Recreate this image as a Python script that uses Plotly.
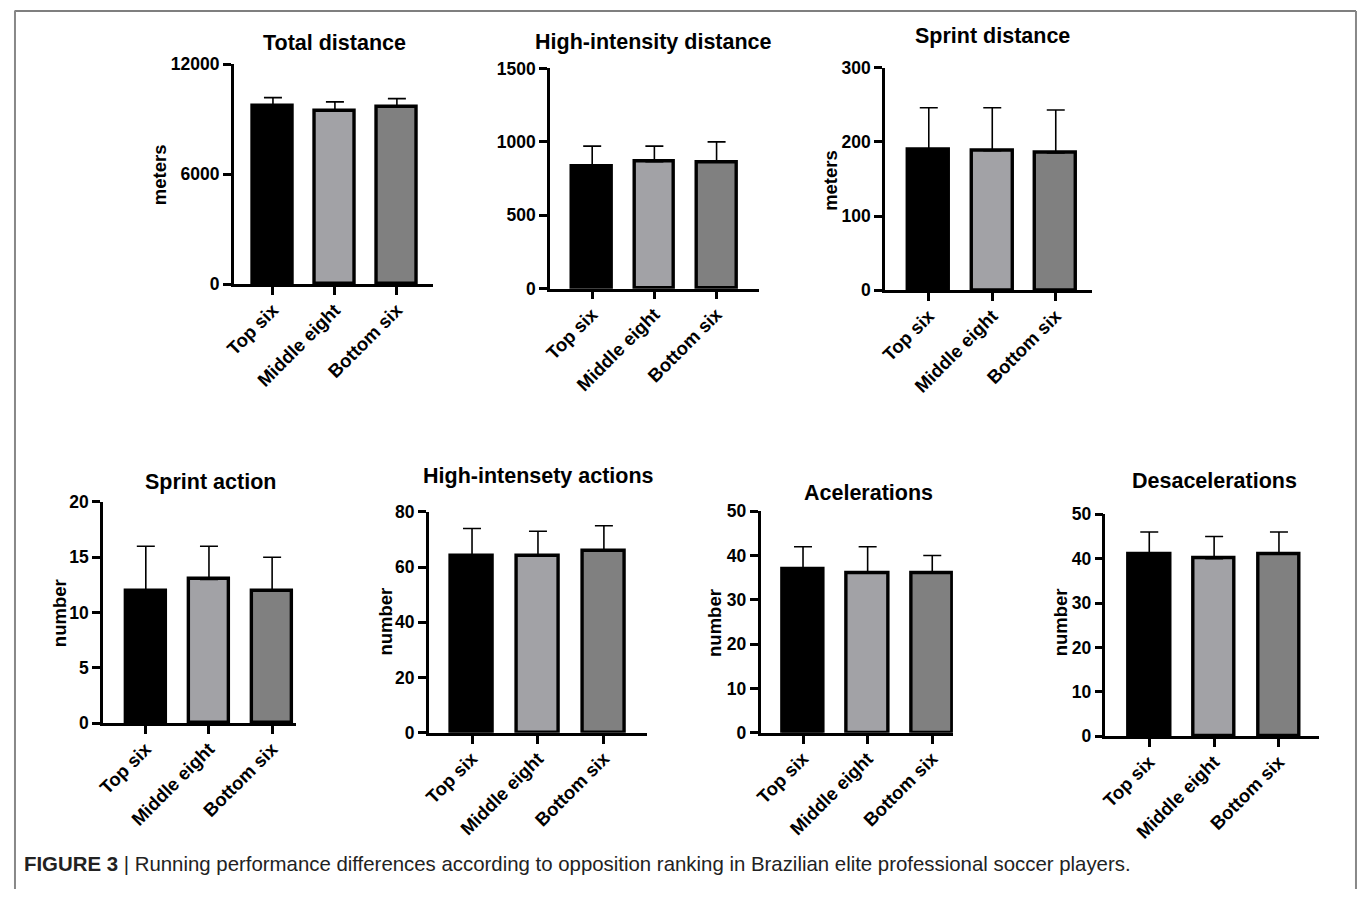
import plotly.graph_objects as go

W, H = 1357, 899

categories = ["Top six", "Middle eight", "Bottom six"]
bar_colors = ["#000000", "#a2a2a6", "#808080"]

total_distance_mean = [9700, 9460, 9660]
total_distance_sd = [470, 475, 455]
high_int_distance_mean = [835, 865, 862]
high_int_distance_sd = [136, 106, 138]
sprint_distance_mean = [189, 188, 185]
sprint_distance_sd = [57, 58, 58]
sprint_action_mean = [12, 13, 12]
sprint_action_sd = [4, 3, 3]
high_int_actions_mean = [64, 64, 66]
high_int_actions_sd = [10, 9, 9]
accelerations_mean = [37, 36, 36]
accelerations_sd = [5, 6, 4]
decelerations_mean = [41, 40, 41]
decelerations_sd = [5, 5, 5]

titles = ["Total distance", "High-intensity distance", "Sprint distance",
          "Sprint action", "High-intensety actions", "Acelerations", "Desacelerations"]
y_titles = ["meters", "", "meters", "number", "number", "number", "number"]
y_ticks = [[0, 6000, 12000], [0, 500, 1000, 1500], [0, 100, 200, 300],
           [0, 5, 10, 15, 20], [0, 20, 40, 60, 80],
           [0, 10, 20, 30, 40, 50], [0, 10, 20, 30, 40, 50]]
means = [total_distance_mean, high_int_distance_mean, sprint_distance_mean,
         sprint_action_mean, high_int_actions_mean, accelerations_mean, decelerations_mean]
sds = [total_distance_sd, high_int_distance_sd, sprint_distance_sd,
       sprint_action_sd, high_int_actions_sd, accelerations_sd, decelerations_sd]

# layout geometry in target pixels: (axis_left, axis_right, top_px, bottom_px, xrange)
geom = [
    (227.3, 428.0, 62.3, 283.3, [-0.633, 2.59]),
    (545.0, 755.0, 66.7, 287.7, [-0.68, 2.68]),
    (881.7, 1090.0, 66.0, 289.3, [-0.69, 2.575]),
    (96.0, 290.0, 501.7, 723.7, [-0.677, 2.38]),
    (423.3, 643.0, 511.7, 733.3, [-0.656, 2.66]),
    (756.7, 950.0, 511.0, 733.3, [-0.657, 2.32]),
    (1103.3, 1318.0, 514.0, 736.7, [-0.675, 2.62]),
]
title_pos = [(329, 41), (649, 40), (990, 34), (204, 482), (534, 476), (865, 493), (1213, 481)]
ytitle_pos = [(153, 173), None, (827, 179), (53, 613), (380, 622), (711, 623), (1058, 622)]

# compensation for the capture's placement of the page
OX, SX = 3.5, 0.9967
OY, SY = 8.1, 0.981

def fx(px):
    return ((px - OX) / SX) / W

def fy(py):
    return 1 - ((py - OY) / SY) / H

FONT = "Liberation Sans, Arial, sans-serif"

fig = go.Figure()
annotations = []
for i in range(7):
    xl, xr, yt, yb, xr_range = geom[i]
    sfx = "" if i == 0 else str(i + 1)
    fig.add_trace(go.Bar(
        x=[0, 1, 2], y=means[i], width=0.64,
        marker=dict(color=bar_colors, line=dict(color="black", width=3.4)),
        error_y=dict(type="data", symmetric=False, array=sds[i], arrayminus=[0, 0, 0],
                     color="black", thickness=1.6, width=9),
        xaxis="x" + sfx, yaxis="y" + sfx, showlegend=False, hoverinfo="skip",
    ))
    fig.layout["xaxis" + sfx] = dict(
        domain=[fx(xl), fx(xr)], anchor="y" + sfx, range=xr_range,
        tickvals=[0, 1, 2], ticktext=categories, tickangle=-45,
        showline=True, linecolor="black", linewidth=2.5,
        ticks="outside", ticklen=8, tickwidth=2.5, tickcolor="black",
        showgrid=False, zeroline=False, ticklabelstandoff=-3,
        tickfont=dict(family=FONT, size=18.5, color="black", weight="bold"),
    )
    fig.layout["yaxis" + sfx] = dict(
        domain=[fy(yb), fy(yt)], anchor="x" + sfx, range=[0, y_ticks[i][-1]],
        tickvals=y_ticks[i], ticktext=[str(v) for v in y_ticks[i]],
        showline=True, linecolor="black", linewidth=2.5,
        ticks="outside", ticklen=8, tickwidth=2.5, tickcolor="black",
        showgrid=False, zeroline=False,
        tickfont=dict(family=FONT, size=17.5, color="black", weight="bold"),
    )
    tx, ty = title_pos[i]
    annotations.append(dict(
        text=titles[i], x=fx(tx), y=fy(ty), xref="paper", yref="paper",
        xanchor="center", yanchor="middle", showarrow=False,
        font=dict(family=FONT, size=21.5, color="black", weight="bold")))
    if ytitle_pos[i] is not None:
        ax, ay = ytitle_pos[i]
        annotations.append(dict(
            text=y_titles[i], x=fx(ax), y=fy(ay), xref="paper", yref="paper",
            xanchor="center", yanchor="middle", showarrow=False, textangle=-90,
            font=dict(family=FONT, size=18.5, color="black", weight="bold")))

annotations.append(dict(
    text="<b>FIGURE 3</b> | Running performance differences according to opposition ranking in Brazilian elite professional soccer players.",
    x=fx(15), y=fy(865), xref="paper", yref="paper", xanchor="left", yanchor="middle",
    showarrow=False, font=dict(family=FONT, size=20.4, color="#222222")))

shapes = [
    dict(type="line", xref="paper", yref="paper", x0=fx(7), x1=fx(1355), y0=fy(9), y1=fy(9),
         line=dict(color="#555555", width=1.5)),
    dict(type="line", xref="paper", yref="paper", x0=fx(7.5), x1=fx(7.5), y0=fy(9), y1=0,
         line=dict(color="#888888", width=2)),
    dict(type="line", xref="paper", yref="paper", x0=fx(1355), x1=fx(1355), y0=fy(9), y1=0,
         line=dict(color="#888888", width=2)),
]

fig.update_layout(
    width=W, height=H, margin=dict(l=0, r=0, t=0, b=0),
    paper_bgcolor="white", plot_bgcolor="white",
    annotations=annotations, shapes=shapes, bargap=0,
)

fig.write_html("out.html", config={"displayModeBar": False},
               post_script="document.body.style.margin='0';document.body.style.overflow='hidden';")
